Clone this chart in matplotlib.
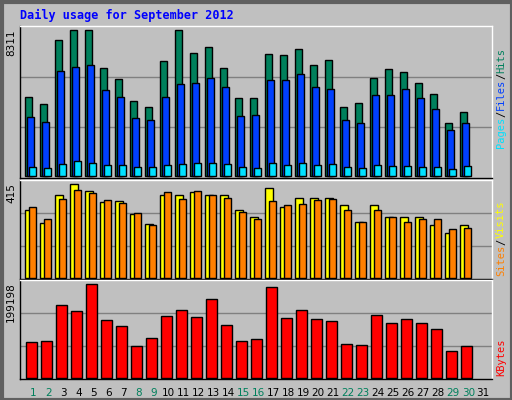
import matplotlib
matplotlib.use("Agg")
import matplotlib.pyplot as plt
from matplotlib.patches import Rectangle

days = list(range(1, 32))
hits = [4514,4118,7744,8311,8311,6158,5534,4288,3948,6554,8311,7008,7348,6158,4458,4458,6951,6894,7234,6328,6611,3948,4174,5591,6101,5931,5308,4684,3041,3664,0]
files = [3381,3098,5988,6214,6328,4911,4514,3324,3211,4514,5251,5308,5591,5081,3438,3494,5478,5478,5818,5081,4968,3211,3041,4628,4628,4968,4458,3834,2588,3041,0]
pages = [491,434,661,831,718,604,604,491,491,604,661,718,718,661,491,434,718,604,718,604,661,491,434,604,548,548,491,491,378,548,0]
sites = [297,243,365,415,383,333,338,279,238,365,365,379,365,365,297,266,397,311,352,352,352,320,247,320,266,270,266,234,198,234,0]
visits = [311,257,347,388,374,343,329,284,234,379,347,383,365,352,288,257,338,320,324,343,347,297,247,297,270,247,257,257,216,220,0]
kbytes = [74429,76617,153234,142290,199198,122590,109455,67862,83186,131343,144479,129154,166370,111644,76617,80997,192640,126970,144479,124779,120400,72240,70051,133535,116020,124779,116020,102887,56917,67862,0]
weekend = [1,2,8,9,15,16,22,23,29,30]

W, H = 512, 400
fig = plt.figure(figsize=(W/100, H/100), dpi=100)
fig.patch.set_facecolor('#c0c0c0')
fig.add_artist(Rectangle((0, 0), 1, 1, transform=fig.transFigure, fill=False, ec='white', lw=2))
fig.add_artist(Rectangle((2/W, 0), 1-2/W, 1-2/H, transform=fig.transFigure, fill=False, ec='#606060', lw=3))

def mkax(top, bottom):
    ax = fig.add_axes([20/W, (H-bottom)/H, 472/W, (bottom-top)/H])
    ax.set_facecolor('#c0c0c0')
    ax.set_xlim(1-5/15, 1+467/15)
    ax.set_xticks([]); ax.set_yticks([])
    for s in ax.spines.values():
        s.set_color('black'); s.set_linewidth(1)
    ax.spines['top'].set_color('white'); ax.spines['right'].set_color('white')
    return ax

def grid(ax, top):
    ax.set_ylim(-top*0.015, top)
    for f in (1/3, 2/3):
        ax.axhline(top*f - top*0.015*(1-f), color='#808080', lw=1, zorder=0)

ec = dict(edgecolor='black', linewidth=1, align='edge', zorder=2)
bw = 7/15

def bars(ax, vals, off, width, color):
    xs = [d+off for d, v in zip(days, vals) if v > 0]
    ys = [v for v in vals if v > 0]
    ax.bar(xs, ys, width, color=color, **ec)

ax1 = mkax(26, 178)
grid(ax1, 8311*1.03)
bars(ax1, hits, 0, bw, '#00805c')
bars(ax1, files, 2/15, bw, '#0040ff')
bars(ax1, pages, 4/15, bw, '#00e0ff')

ax2 = mkax(180, 279)
grid(ax2, 415*1.04)
bars(ax2, sites, 0, 0.55, '#ffff00')
bars(ax2, visits, 4/15, bw, '#ff8000')

ax3 = mkax(280, 379)
grid(ax3, 199198*1.04)
bars(ax3, kbytes, 1/15, 11/15, '#ff0000')

for d in days:
    ax3.text(d+0.55, -0.09, str(d), transform=ax3.get_xaxis_transform(), ha='center', va='top',
             fontsize=7.5, color='#00805c' if d in weekend else 'black')

fig.text(20/W, 1-15/H, 'Daily usage for September 2012', fontsize=8.5, color='#0000ff',
         family='DejaVu Sans Mono', weight='bold', va='center', ha='left')

def ylab(txt, ypix):
    fig.text(11/W, 1-ypix/H, txt, rotation=90, fontsize=7.5, ha='center', va='top', color='black')
ylab('8311', 30)
ylab('415', 183)
ylab('199198', 282)

FS = 7.5
CH = 0.6*FS*100/72  # px per char

def rlab_up(parts, ybot):
    y = ybot
    for txt, col in parts:
        fig.text(501/W, 1-y/H, txt, rotation=90, fontsize=FS, color=col, family='DejaVu Sans Mono',
                 ha='center', va='bottom')
        y -= len(txt)*CH
rlab_up([('Pages', '#00e0ff'), ('/', 'black'), ('Files', '#0040ff'), ('/', 'black'), ('Hits', '#00805c')], 148)
rlab_up([('Sites', '#ff8000'), ('/', 'black'), ('Visits', '#ffff00')], 276)
rlab_up([('KBytes', '#ff0000')], 376)

fig.savefig('out.png', dpi=100, facecolor=fig.get_facecolor())
